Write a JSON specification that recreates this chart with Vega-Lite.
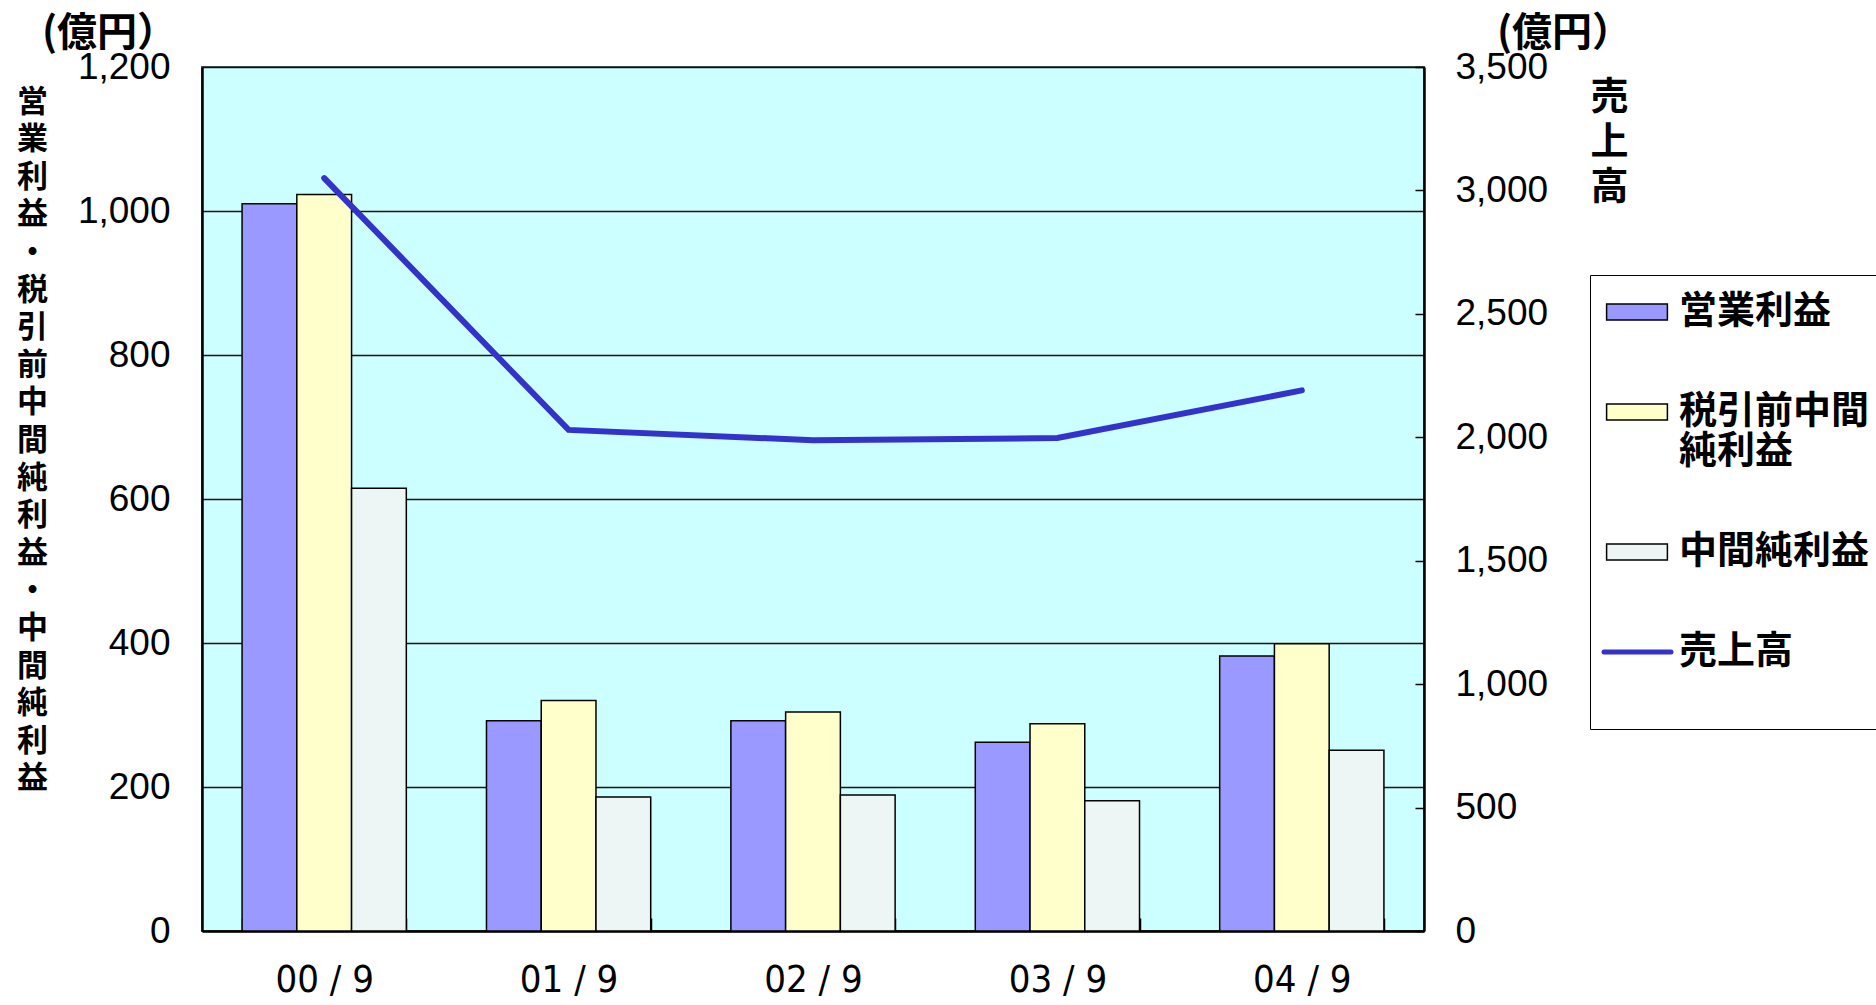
{
  "$schema": "https://vega.github.io/schema/vega-lite/v6.json",
  "autosize": {"type": "none"},
  "width": 1222,
  "height": 864,
  "padding": {"left": 202, "top": 67, "right": 452, "bottom": 74},
  "background": "white",
  "config": {
    "view": {"fill": "#CCFFFF", "stroke": "#555555", "strokeWidth": 2},
    "font": "Liberation Sans"
  },
  "datasets": {
    "profits": [
      {"period": "00/9", "series": "営業利益", "value": 1010},
      {"period": "00/9", "series": "税引前中間純利益", "value": 1023},
      {"period": "00/9", "series": "中間純利益", "value": 615},
      {"period": "01/9", "series": "営業利益", "value": 292},
      {"period": "01/9", "series": "税引前中間純利益", "value": 320},
      {"period": "01/9", "series": "中間純利益", "value": 186},
      {"period": "02/9", "series": "営業利益", "value": 292},
      {"period": "02/9", "series": "税引前中間純利益", "value": 304},
      {"period": "02/9", "series": "中間純利益", "value": 189},
      {"period": "03/9", "series": "営業利益", "value": 262},
      {"period": "03/9", "series": "税引前中間純利益", "value": 288},
      {"period": "03/9", "series": "中間純利益", "value": 181},
      {"period": "04/9", "series": "営業利益", "value": 382},
      {"period": "04/9", "series": "税引前中間純利益", "value": 399},
      {"period": "04/9", "series": "中間純利益", "value": 251}
    ],
    "sales": [
      {"period": "00/9", "sales": 3050},
      {"period": "01/9", "sales": 2030},
      {"period": "02/9", "sales": 1988},
      {"period": "03/9", "sales": 1997},
      {"period": "04/9", "sales": 2190}
    ]
  },
  "layer": [
    {
      "data": {"name": "profits"},
      "mark": {"type": "bar", "stroke": "black", "strokeWidth": 1.5},
      "encoding": {
        "x": {
          "field": "period",
          "type": "nominal",
          "sort": null,
          "scale": {"paddingInner": 0.328, "paddingOuter": 0.164},
          "axis": {
            "labelAngle": 0,
            "labelFont": "'DejaVu Sans Condensed', 'Liberation Sans'",
            "labelFontSize": 38,
            "labelColor": "black",
            "labelPadding": 43,
            "labelExpr": "replace(datum.label, '/', ' / ')",
            "tickBand": "extent",
            "ticks": true,
            "tickSize": -13,
            "tickColor": "black",
            "tickWidth": 1.5,
            "domain": true,
            "domainColor": "black",
            "domainWidth": 2.5,
            "grid": false,
            "title": "(億円）",
            "titleX": -93,
            "titleY": -898,
            "titleAlign": "center",
            "titleBaseline": "middle",
            "titleFont": "Noto Sans CJK JP",
            "titleFontSize": 40,
            "titleFontWeight": "bold",
            "titleColor": "black"
          }
        },
        "xOffset": {
          "field": "series",
          "type": "nominal",
          "sort": ["営業利益", "税引前中間純利益", "中間純利益"],
          "scale": {"paddingInner": 0, "paddingOuter": 0}
        },
        "y": {
          "field": "value",
          "type": "quantitative",
          "scale": {"domain": [0, 1200], "nice": false},
          "axis": {
            "values": [0, 200, 400, 600, 800, 1000, 1200],
            "format": ",d",
            "grid": true,
            "gridColor": "#111111",
            "gridWidth": 1.5,
            "ticks": false,
            "domain": true,
            "domainColor": "black",
            "domainWidth": 2.5,
            "labelFont": "Liberation Sans",
            "labelFontSize": 37,
            "labelColor": "black",
            "labelPadding": 32,
            "labelOverlap": false,
            "title": ["営", "業", "利", "益", "・", "税", "引", "前", "中", "間", "純", "利", "益", "・", "中", "間", "純", "利", "益"],
            "titleAngle": 0,
            "titleX": -170,
            "titleY": 35,
            "titleAlign": "center",
            "titleBaseline": "middle",
            "titleFont": "Noto Sans CJK JP",
            "titleFontSize": 31,
            "titleFontWeight": "bold",
            "titleLineHeight": 37.6,
            "titleColor": "black"
          }
        },
        "color": {
          "field": "series",
          "type": "nominal",
          "scale": {
            "domain": ["営業利益", "税引前中間純利益", "中間純利益", "売上高"],
            "range": ["#9999FF", "#FFFFCC", "#EEF6F5", "#3333CC"]
          },
          "legend": {
            "title": null,
            "orient": "none",
            "legendX": 1388,
            "legendY": 208,
            "strokeColor": "black",
            "fillColor": "white",
            "padding": 18,
            "rowPadding": 62,
            "symbolSize": 1600,
            "symbolStrokeColor": "black",
            "symbolStrokeWidth": 1.5,
            "labelFont": "Noto Sans CJK JP",
            "labelFontSize": 38,
            "labelFontWeight": "bold",
            "labelColor": "black",
            "labelOffset": 33,
            "labelLimit": 400,
            "labelLineHeight": 40,
            "labelExpr": "datum.label === '税引前中間純利益' ? ['税引前中間', '純利益'] : datum.label === '売上高' ? ['売上高', ''] : datum.label",
            "encode": {
              "symbols": {
                "update": {
                  "shape": {"signal": "datum.value === '売上高' ? 'M-1.15,0H2.2' : 'M-1.02,-0.4H2.02V0.4H-1.02Z'"},
                  "stroke": {"signal": "datum.value === '売上高' ? '#3333CC' : 'black'"},
                  "strokeWidth": {"signal": "datum.value === '売上高' ? 5 : 1.5"},
                  "strokeCap": {"value": "round"}
                }
              }
            }
          }
        }
      }
    },
    {
      "data": {"name": "sales"},
      "mark": {"type": "line", "color": "#3333CC", "strokeWidth": 6, "strokeCap": "round", "strokeJoin": "miter"},
      "encoding": {
        "x": {
          "field": "period",
          "type": "nominal",
          "sort": null,
          "axis": {
            "orient": "top",
            "labels": false,
            "ticks": false,
            "domain": false,
            "grid": false,
            "title": "(億円）",
            "titleX": 1362,
            "titleY": -34,
            "titleAlign": "center",
            "titleBaseline": "middle",
            "titleFont": "Noto Sans CJK JP",
            "titleFontSize": 40,
            "titleFontWeight": "bold",
            "titleColor": "black"
          }
        },
        "y": {
          "field": "sales",
          "type": "quantitative",
          "scale": {"domain": [0, 3500], "nice": false},
          "axis": {
            "orient": "right",
            "values": [0, 500, 1000, 1500, 2000, 2500, 3000, 3500],
            "format": ",d",
            "grid": false,
            "ticks": true,
            "tickSize": -9,
            "tickColor": "black",
            "tickWidth": 1.5,
            "domain": true,
            "domainColor": "black",
            "domainWidth": 2.5,
            "labelFont": "Liberation Sans",
            "labelFontSize": 37,
            "labelColor": "black",
            "labelPadding": 40,
            "labelOverlap": false,
            "title": ["売", "上", "高"],
            "titleAngle": 0,
            "titleX": 185,
            "titleY": 30,
            "titleAlign": "center",
            "titleBaseline": "middle",
            "titleFont": "Noto Sans CJK JP",
            "titleFontSize": 38,
            "titleFontWeight": "bold",
            "titleLineHeight": 45,
            "titleColor": "black"
          }
        }
      }
    }
  ],
  "resolve": {"scale": {"y": "independent"}, "axis": {"x": "independent"}}
}
